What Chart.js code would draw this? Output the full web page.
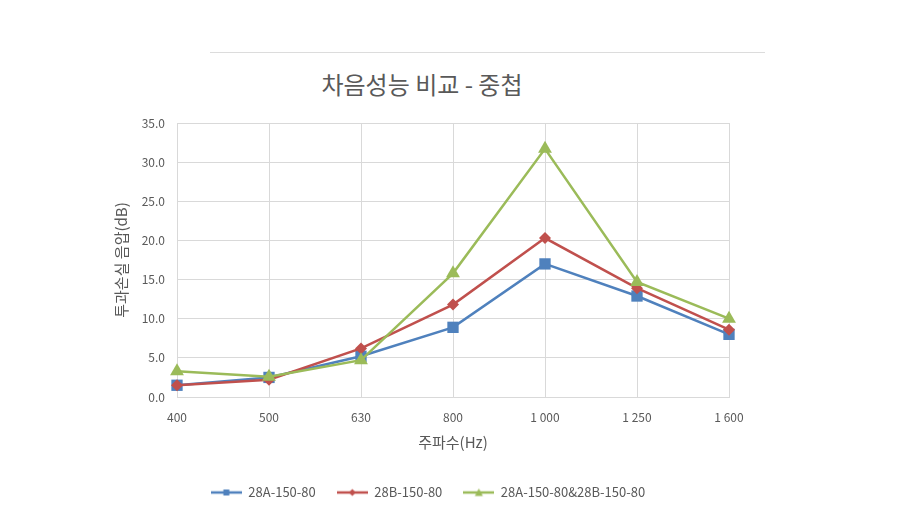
<!DOCTYPE html>
<html>
<head>
<meta charset="utf-8">
<script src="https://cdn.jsdelivr.net/npm/chart.js@4.4.1/dist/chart.umd.min.js"></script>
<style>
  html, body { margin: 0; padding: 0; background: #ffffff; }
  body { width: 917px; height: 515px; position: relative; overflow: hidden; font-family: "Noto Sans CJK KR", "Noto Sans", sans-serif; }
  #frameLine { position: absolute; left: 210px; top: 52px; width: 555px; height: 0; border-top: 1px solid #dcdcdc; }
  #title { position: absolute; left: 222px; width: 400px; top: 68px; text-align: center; font-size: 24px; color: #595959; line-height: 32px; }
  #c { position: absolute; left: 100px; top: 0; }
</style>
</head>
<body>
<div id="frameLine"></div>
<div id="title">차음성능 비교 - 중첩</div>
<canvas id="c" width="684" height="515"></canvas>
<script>
const categories = ['400', '500', '630', '800', '1 000', '1 250', '1 600'];
const seriesNames = ['28A-150-80', '28B-150-80', '28A-150-80&28B-150-80'];
const series28A = [1.5, 2.5, 5.2, 8.9, 17.0, 12.9, 8.0];
const series28B = [1.5, 2.2, 6.2, 11.8, 20.3, 13.9, 8.6];
const seriesCombined = [3.3, 2.6, 4.7, 15.8, 31.7, 14.7, 10.0];
const yTicks = [0, 5, 10, 15, 20, 25, 30, 35];
const yTitle = '투과손실 음압(dB)';
const xTitle = '주파수(Hz)';

const colors = ['#4F81BD', '#C0504D', '#9BBB59'];
const styles = ['rect', 'rectRot', 'triangle'];
const radii = [8, 6, 8];

function legendIcon(color, style) {
  const cv = document.createElement('canvas');
  cv.width = 31; cv.height = 12;
  const ctx = cv.getContext('2d');
  ctx.strokeStyle = color; ctx.lineWidth = 2.5;
  ctx.beginPath(); ctx.moveTo(0, 6); ctx.lineTo(31, 6); ctx.stroke();
  ctx.fillStyle = color;
  ctx.beginPath();
  if (style === 'rect') { ctx.rect(12.5, 3, 6, 6); }
  else if (style === 'rectRot') { ctx.moveTo(15.5, 2.5); ctx.lineTo(19, 6); ctx.lineTo(15.5, 9.5); ctx.lineTo(12, 6); ctx.closePath(); }
  else { ctx.moveTo(15.5, 2); ctx.lineTo(19.5, 9.5); ctx.lineTo(11.5, 9.5); ctx.closePath(); }
  ctx.fill();
  return cv;
}
const icons = colors.map((c, i) => legendIcon(c, styles[i]));

const seriesData = [series28A, series28B, seriesCombined];
const datasets = seriesData.map((d, i) => ({
  label: seriesNames[i],
  data: d,
  borderColor: colors[i],
  backgroundColor: colors[i],
  borderWidth: 2.5,
  pointStyle: styles[i],
  pointRadius: radii[i],
  pointHoverRadius: radii[i],
  pointBorderWidth: 0,
  pointBackgroundColor: colors[i],
  tension: 0,
  fill: false,
  order: 2 - i
}));

const fontFam = '"Noto Sans CJK KR", "Noto Sans", sans-serif';
const grey = '#595959';

new Chart(document.getElementById('c'), {
  type: 'line',
  data: { labels: categories, datasets: datasets },
  options: {
    responsive: false,
    animation: false,
    devicePixelRatio: 1,
    layout: { padding: { top: 123, right: 55, bottom: 6, left: 27 } },
    plugins: {
      title: { display: false },
      tooltip: { enabled: false },
      legend: {
        position: 'bottom',
        labels: {
          usePointStyle: true,
          pointStyleWidth: 31,
          padding: 21,
          color: grey,
          font: { family: fontFam, size: 13 },
          generateLabels: (chart) => chart.data.datasets.map((ds, i) => ({
            text: ds.label,
            pointStyle: icons[i],
            fillStyle: ds.borderColor,
            strokeStyle: ds.borderColor,
            lineWidth: 0,
            fontColor: grey,
            datasetIndex: i,
            hidden: false
          }))
        }
      }
    },
    scales: {
      x: {
        type: 'category',
        offset: false,
        afterFit: (s) => { s.height = 68; },
        grid: { color: '#d9d9d9', lineWidth: 1, drawTicks: false },
        border: { color: '#d9d9d9' },
        ticks: { color: grey, padding: 13, maxRotation: 0, autoSkip: false, font: { family: fontFam, size: 12 } },
        title: { display: true, text: xTitle, color: grey, font: { family: fontFam, size: 15 }, padding: { top: 4, bottom: 14 } }
      },
      y: {
        min: 0,
        max: 35,
        afterFit: (s) => { s.width = 50; },
        afterBuildTicks: (s) => { s.ticks = yTicks.map(v => ({ value: v })); },
        grid: { color: '#d9d9d9', lineWidth: 1, drawTicks: false },
        border: { color: '#d9d9d9' },
        ticks: { color: grey, padding: 12, font: { family: fontFam, size: 12 }, callback: (v) => Number(v).toFixed(1) },
        title: { display: true, text: yTitle, color: grey, font: { family: fontFam, size: 15 }, padding: { top: -15, bottom: 4 } }
      }
    }
  }
});
</script>
</body>
</html>
